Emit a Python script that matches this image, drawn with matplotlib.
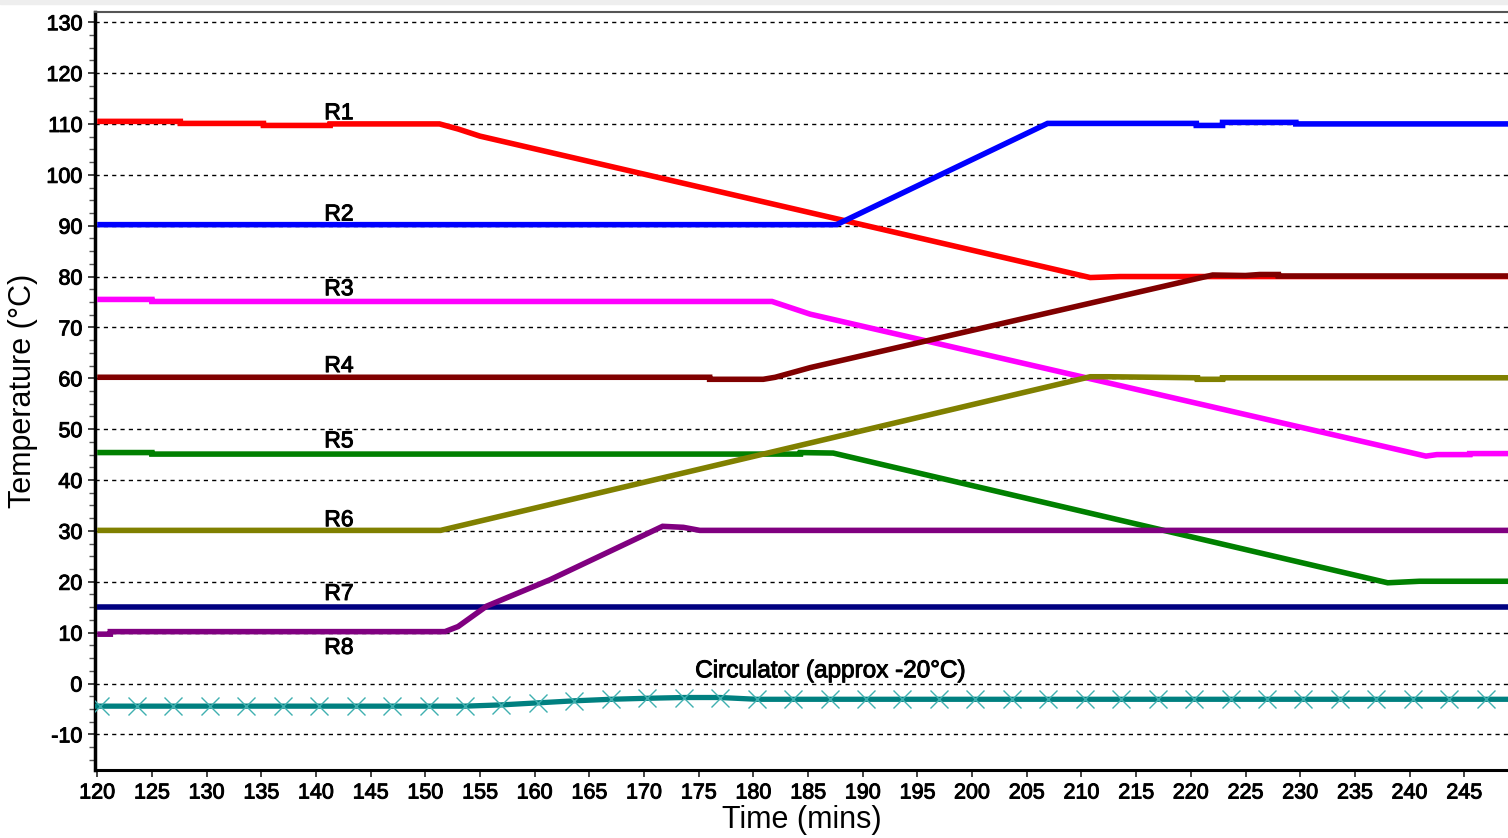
import numpy as np
import matplotlib
matplotlib.use("Agg")
import matplotlib.pyplot as plt
import matplotlib.patheffects as pe
from matplotlib.ticker import MultipleLocator
from matplotlib.patches import Rectangle

plt.rcParams['font.family'] = ['Liberation Sans', 'DejaVu Sans']
plt.rcParams['axes.unicode_minus'] = False

# breakpoints (time in mins, temperature in degC) for each reactor
r1_t = [120, 127.6, 127.6, 135.2, 135.2, 141.3, 141.3, 151.3, 153, 155, 210.8, 213.5, 249]
r1_v = [110.5, 110.5, 110.1, 110.1, 109.7, 109.7, 110, 110, 109, 107.6, 79.8, 80, 80]

r2_t = [120, 187.6, 206.9, 220.5, 220.5, 222.9, 222.9, 229.6, 229.6, 249]
r2_v = [90.2, 90.2, 110.1, 110.1, 109.7, 109.7, 110.3, 110.3, 110, 110]

r3_t = [120, 125, 125, 181.7, 185.2, 241.5, 242.5, 245.5, 245.5, 249]
r3_v = [75.5, 75.5, 75.1, 75.1, 72.6, 44.7, 45.0, 45.0, 45.2, 45.2]

r4_t = [120, 176, 176, 180.9, 182, 185.2, 222, 225, 226.3, 228, 228, 249]
r4_v = [60.2, 60.2, 59.8, 59.8, 60.2, 62.1, 80.3, 80.2, 80.4, 80.4, 80.1, 80.1]

r5_t = [120, 125, 125, 184.3, 184.3, 187.3, 238, 240.9, 249]
r5_v = [45.4, 45.4, 45.1, 45.1, 45.4, 45.3, 19.8, 20.1, 20.1]

r6_t = [120, 151.4, 210.8, 212.5, 220.6, 220.6, 222.9, 222.9, 249]
r6_v = [30.1, 30.1, 60.3, 60.3, 60.1, 59.8, 59.8, 60.1, 60.1]

r7_t = [120, 249]
r7_v = [15.1, 15.1]

r8_t = [120, 121.2, 121.2, 151.8, 153, 155.6, 161.4, 171.7, 173.6, 175.1, 249]
r8_v = [9.7, 9.7, 10.2, 10.2, 11.2, 15.2, 20.4, 30.9, 30.7, 30.1, 30.1]

# circulator sampled every 200 s, plus the line ends
circ_t = [119.8] + list(120.3 + np.arange(39) * 10 / 3) + [249]
circ_v = ([-4.45] * 11 + [-4.45, -4.2, -3.8, -3.4, -3.1, -2.9, -2.75, -2.75]
          + [-3.1] * 21 + [-3.1])

series = [
    ("R1", r1_t, r1_v, "#ff0000"),
    ("R2", r2_t, r2_v, "#0000ff"),
    ("R3", r3_t, r3_v, "#ff00ff"),
    ("R4", r4_t, r4_v, "#800000"),
    ("R5", r5_t, r5_v, "#008000"),
    ("R6", r6_t, r6_v, "#808000"),
    ("R7", r7_t, r7_v, "#000080"),
    ("R8", r8_t, r8_v, "#800080"),
]

# label anchors
label_x = 142.1
label_y = [112.2, 92.3, 77.6, 62.5, 47.7, 32.2, 17.7, 7.1]

heavy = [pe.withStroke(linewidth=0.7, foreground="black")]

fig = plt.figure(figsize=(15.08, 8.38), dpi=100)
ax = fig.add_axes([95 / 1508, 68 / 838, 1 - 95 / 1508, (770 - 12) / 838])

# thin grey strip along the top of the window
fig.patches.append(Rectangle((0, 1 - 4 / 838), 1, 4 / 838, transform=fig.transFigure,
                             color="#eeeeee", zorder=0))

ax.plot(circ_t, circ_v, color="#008080", lw=3.8, solid_capstyle="butt", zorder=3,
        marker="x", markevery=list(range(1, len(circ_t) - 1)), markersize=13,
        markeredgewidth=1.0, markeredgecolor="#3fb0b0")

for name, t, v, c in series:
    ax.plot(t, v, color=c, lw=4.0, solid_capstyle="butt", solid_joinstyle="miter", zorder=4)

for (name, t, v, c), ly in zip(series, label_y):
    ax.text(label_x, ly, name, ha="center", va="center", fontsize=16.5, color="black",
            zorder=5, path_effects=heavy)
ax.text(187.0, 2.4, "Circulator (approx -20°C)", ha="center", va="center", fontsize=17.5,
        color="black", zorder=5, path_effects=heavy)

ax.set_xlim(119.8, 249)
ax.set_ylim(-17, 132)
ax.set_xticks(np.arange(120, 250, 5))
ax.yaxis.set_major_locator(MultipleLocator(10))
ax.yaxis.set_minor_locator(MultipleLocator(2.5))

ax.grid(axis="y", which="major", color="black", linestyle=(0, (3, 3)), lw=1.0, zorder=1)
ax.tick_params(axis="both", which="major", direction="out", length=5, width=1.2,
               labelsize=15.5, colors="#222222", labelcolor="black", pad=4)
ax.tick_params(axis="y", which="minor", direction="out", length=4, width=1.0, colors="#555555")

ax.spines["left"].set_linewidth(2.5)
ax.spines["bottom"].set_linewidth(2.2)
ax.spines["top"].set_linewidth(1.5)
ax.spines["top"].set_color("#555555")
ax.spines["right"].set_visible(False)

ax.set_xlabel("Time (mins)", fontsize=22, labelpad=1)
ax.set_ylabel("Temperature (°C)", fontsize=22, labelpad=6)

fig.canvas.draw()
for lbl in ax.get_xticklabels() + ax.get_yticklabels():
    lbl.set_path_effects(heavy)

fig.savefig("out.png", dpi=100, facecolor="white")
